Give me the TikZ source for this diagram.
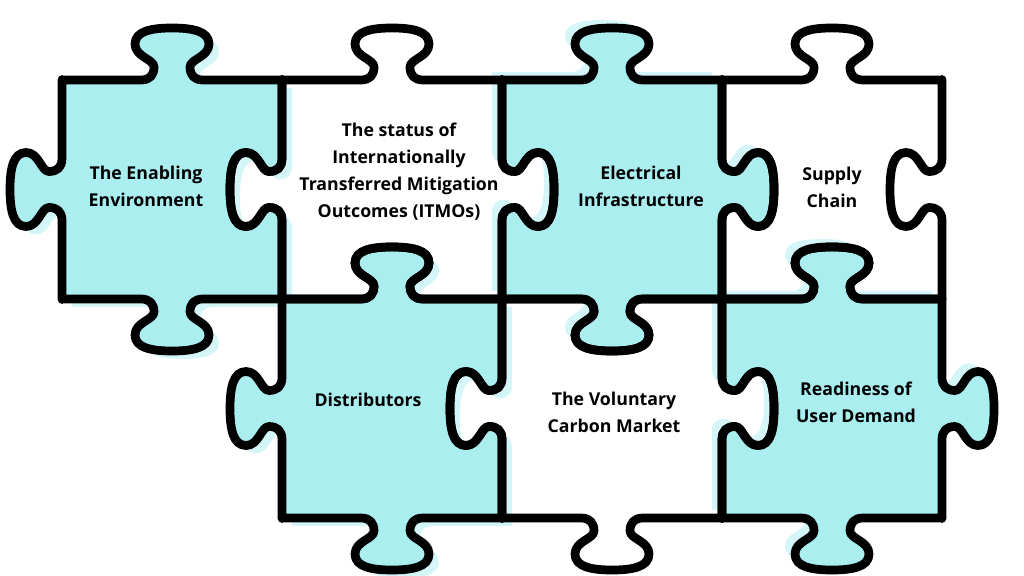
\documentclass[tikz,border=0pt]{standalone}
\usepackage{fontspec}
\setmainfont{Open Sans}

\definecolor{puzzlecyan}{HTML}{AAEEF0}
\definecolor{shadecyan}{HTML}{D4F6F8}

% one side of a piece: middle of the side, its direction, 1 = knob out, -1 = knob in
\newcommand\tabedge[4]{[reset cm,shift={(#1,#2)},rotate=#3,yscale=#4]
  -- (-110,0) -- (-31,0)
  .. controls (-22,0) and (-18,5) .. (-18,13)
  .. controls (-18,21) and (-37,23) .. (-37,36)
  .. controls (-37,49) and (-20,52) .. (0,52)
  .. controls (20,52) and (37,49) .. (37,36)
  .. controls (37,23) and (18,21) .. (18,13)
  .. controls (18,5) and (22,0) .. (31,0)
  -- (110,0)}

% a whole piece from its top left corner; sides: top, right, bottom, left
\newcommand\puzzlepiece[6]{(#1,#2)
  \tabedge{#1+110}{#2}{0}{#3}
  \tabedge{#1+220}{#2-109.5}{-90}{#4}
  \tabedge{#1+110}{#2-219}{180}{#5}
  \tabedge{#1}{#2-109.5}{90}{#6} -- cycle}

\tikzset{
  pieceline/.style={draw=black,line width=6.2pt,line join=round},
  piecefill/.style={fill=puzzlecyan},
  pieceshade/.style={fill=shadecyan},
  piecetext/.style={align=center,font=\bfseries\fontsize{12.6}{19.2}\selectfont}
}

\begin{document}
\begin{tikzpicture}[x=0.025cm,y=0.025cm]

\useasboundingbox (0,0) rectangle (1024,-576);

% Shadows of the blue pieces
\fill[pieceshade] \puzzlepiece{62+10}{-80-8}{1}{-1}{1}{1};
\fill[pieceshade] \puzzlepiece{502-10}{-80+8}{1}{1}{1}{-1};
\fill[pieceshade] \puzzlepiece{282+10}{-299-8}{1}{-1}{1}{1};
\fill[pieceshade] \puzzlepiece{722-10}{-299+8}{1}{1}{1}{-1};

% Blue pieces
\fill[piecefill] \puzzlepiece{62}{-80}{1}{-1}{1}{1};
\fill[piecefill] \puzzlepiece{502}{-80}{1}{1}{1}{-1};
\fill[piecefill] \puzzlepiece{282}{-299}{1}{-1}{1}{1};
\fill[piecefill] \puzzlepiece{722}{-299}{1}{1}{1}{-1};

% Outlines, top row
\path[pieceline] \puzzlepiece{62}{-80}{1}{-1}{1}{1};
\path[pieceline] \puzzlepiece{282}{-80}{1}{1}{-1}{1};
\path[pieceline] \puzzlepiece{502}{-80}{1}{1}{1}{-1};
\path[pieceline] \puzzlepiece{722}{-80}{1}{-1}{-1}{-1};

% Outlines, bottom row
\path[pieceline] \puzzlepiece{282}{-299}{1}{-1}{1}{1};
\path[pieceline] \puzzlepiece{502}{-299}{-1}{1}{1}{1};
\path[pieceline] \puzzlepiece{722}{-299}{1}{1}{1}{-1};

% Labels
\node[piecetext] (enabling) at (146,-186) {The Enabling\\Environment};
\node[piecetext] (itmo) at (399,-172) {The status of\\Internationally\\Transferred Mitigation\\Outcomes (ITMOs)};
\node[piecetext] (electrical) at (641,-186) {Electrical\\Infrastructure};
\node[piecetext] (supply) at (832,-187) {Supply\\Chain};
\node[piecetext] (distributors) at (368,-400) {Distributors};
\node[piecetext] (voluntary) at (614,-412) {The Voluntary\\Carbon Market};
\node[piecetext] (readiness) at (856,-402) {Readiness of\\User Demand};

\end{tikzpicture}
\end{document}
